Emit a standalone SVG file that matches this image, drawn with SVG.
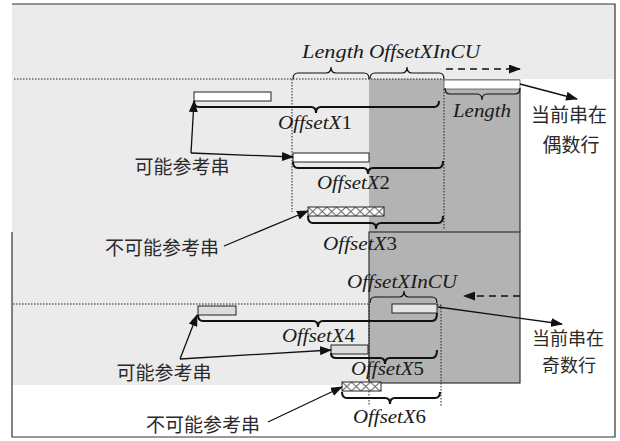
<svg xmlns="http://www.w3.org/2000/svg" width="620" height="441" viewBox="0 0 620 441">
<style>
.math{font-family:"Liberation Serif","DejaVu Serif",serif;font-style:italic;font-size:19px;fill:#1a1a1a}
.num{font-style:normal}
.cjk{font-family:"Noto Sans CJK SC","Noto Sans",sans-serif;font-size:19px;fill:#2a2a2a;text-anchor:middle}
.cjk2{font-size:18px}
.dot{fill:none;stroke:#222;stroke-width:1;stroke-dasharray:1.5,1.5}
.brace{fill:none;stroke:#111;stroke-width:1.2}
.bbrace{fill:none;stroke:#111;stroke-width:2}
.arr{fill:none;stroke:#111;stroke-width:1.3;marker-end:url(#ah)}
.dash{fill:none;stroke:#111;stroke-width:1.6;stroke-dasharray:7,5;marker-end:url(#ah)}
.bar{stroke:#222;stroke-width:1}
</style>
<defs>
<marker id="ah" markerUnits="userSpaceOnUse" markerWidth="12" markerHeight="9" refX="11" refY="4.5" orient="auto">
<path d="M0,0 L12,4.5 L0,9 z" fill="#111"/>
</marker>
<pattern id="hatch" width="9.5" height="9" patternUnits="userSpaceOnUse">
<rect width="9.5" height="9" fill="#fff"/>
<path d="M0,0 L9.5,9 M9.5,0 L0,9" stroke="#666" stroke-width="1"/>
</pattern>
</defs>

<g id="background">
<rect x="12" y="4" width="603" height="75" fill="#ebebeb"/>
<rect x="12" y="79" width="357" height="306" fill="#ebebeb"/>
<rect x="369" y="79" width="151" height="153" fill="#b3b3b3"/>
<rect x="369" y="232" width="151" height="151" fill="#b3b3b3" stroke="#333" stroke-width="1.2"/>
<line x1="520" y1="89" x2="520" y2="232" stroke="#333" stroke-width="1.2"/>
<path d="M12,4 H615 V437 H12 V232" fill="none" stroke="#333" stroke-width="1.2"/>
</g>

<g id="guides">
<line class="dot" x1="14" y1="79" x2="444" y2="79"/>
<line class="dot" x1="292" y1="79" x2="292" y2="212"/>
<line class="dot" x1="444" y1="89" x2="444" y2="230"/>
<line class="dot" x1="13" y1="304" x2="369" y2="304"/>
<line class="dot" x1="369" y1="304" x2="369" y2="405"/>
<line class="dot" x1="437" y1="305" x2="441" y2="305"/>
<line class="dot" x1="441" y1="305" x2="441" y2="406"/>
</g>

<g id="cur-even">
<rect x="444" y="80" width="76" height="9" fill="#fff" stroke="#555" stroke-width="0.8"/>
</g>
<g id="refA"><rect class="bar" x="194" y="92" width="77" height="9" fill="#fff"/></g>
<g id="refB"><rect class="bar" x="293" y="153" width="76" height="9" fill="#fff"/></g>
<g id="refC" transform="translate(308,207)"><rect class="bar" width="76" height="9" fill="url(#hatch)"/></g>
<g id="cur-odd"><rect class="bar" x="392" y="304" width="45" height="9" fill="#e4e4e4"/></g>
<g id="refD"><rect class="bar" x="198" y="306" width="38" height="9" fill="#dcdcdc"/></g>
<g id="refF"><rect class="bar" x="331" y="345" width="37" height="9" fill="#dcdcdc"/></g>
<g id="refG" transform="translate(342,382)"><rect class="bar" width="39" height="9" fill="url(#hatch)"/></g>

<g id="braces">
<path class="brace" d="M293,79 Q293,73 298,73 L326,73 Q331,73 331,67 Q331,73 336,73 L364,73 Q369,73 369,79"/>
<path class="brace" d="M370,79 Q370,73 375,73 L402,73 Q407,73 407,67 Q407,73 412,73 L439,73 Q444,73 444,79"/>
<path class="brace" d="M445,88 Q445,94 450,94 L477,94 Q482,94 482,100 Q482,94 487,94 L515,94 Q520,94 520,88"/>
<path class="bbrace" d="M194,101 Q194,107 199,107 L311,107 Q316,107 316,113 Q316,107 321,107 L434,107 Q439,107 439,101"/>
<path class="bbrace" d="M293,162 Q293,168 298,168 L363,168 Q368,168 368,174 Q368,168 373,168 L438,168 Q443,168 443,161"/>
<path class="bbrace" d="M308,216 Q308,223 313,223 L371,223 Q376,223 376,229 Q376,223 381,223 L438,223 Q443,223 443,216"/>
<path class="brace" d="M370,303 Q370,297 375,297 L399,297 Q404,297 404,291 Q404,297 409,297 L432,297 Q437,297 437,303"/>
<path class="bbrace" d="M198,315 Q198,321 203,321 L313,321 Q318,321 318,327 Q318,321 323,321 L432,321 Q437,321 437,313"/>
<path class="bbrace" d="M331,353 Q331,358 336,358 L380,358 Q385,358 385,364 Q385,358 390,358 L432,358 Q437,358 437,350"/>
<path class="bbrace" d="M342,392 Q342,398 347,398 L385,398 Q390,398 390,404 Q390,398 395,398 L435,398 Q440,398 440,392"/>
</g>

<g id="labels">
<text class="math" x="302" y="58" textLength="62" lengthAdjust="spacingAndGlyphs">Length</text>
<text class="math" x="369" y="58" textLength="111" lengthAdjust="spacingAndGlyphs">OffsetXInCU</text>
<text class="math" x="453" y="117" textLength="58" lengthAdjust="spacingAndGlyphs">Length</text>
<text class="math" x="278" y="129" textLength="74" lengthAdjust="spacingAndGlyphs">OffsetX<tspan class="num">1</tspan></text>
<text class="math" x="317" y="189" textLength="73" lengthAdjust="spacingAndGlyphs">OffsetX<tspan class="num">2</tspan></text>
<text class="math" x="323" y="250" textLength="74" lengthAdjust="spacingAndGlyphs">OffsetX<tspan class="num">3</tspan></text>
<text class="math" x="347" y="288" textLength="110" lengthAdjust="spacingAndGlyphs">OffsetXInCU</text>
<text class="math" x="282" y="342" textLength="73" lengthAdjust="spacingAndGlyphs">OffsetX<tspan class="num">4</tspan></text>
<text class="math" x="351" y="375" textLength="73" lengthAdjust="spacingAndGlyphs">OffsetX<tspan class="num">5</tspan></text>
<text class="math" x="353" y="423" textLength="73" lengthAdjust="spacingAndGlyphs">OffsetX<tspan class="num">6</tspan></text>
</g>

<g id="note-even">
<text class="cjk" x="569" y="122">当前串在</text>
<text class="cjk" x="571" y="152">偶数行</text>
</g>
<g id="note-possible-1"><text class="cjk" x="182" y="174">可能参考串</text></g>
<g id="note-impossible-1"><text class="cjk" x="162" y="255">不可能参考串</text></g>
<g id="note-possible-2"><text class="cjk" x="164" y="380">可能参考串</text></g>
<g id="note-impossible-2"><text class="cjk" x="203" y="432">不可能参考串</text></g>
<g id="note-odd">
<text class="cjk cjk2" x="568" y="345">当前串在</text>
<text class="cjk cjk2" x="569" y="372">奇数行</text>
</g>

<g id="connectors">
<line class="arr" x1="191" y1="153" x2="194" y2="101"/>
<line class="arr" x1="191" y1="153" x2="293" y2="157"/>
<line class="arr" x1="224" y1="246" x2="308" y2="211"/>
<line class="arr" x1="180" y1="359" x2="197" y2="315"/>
<line class="arr" x1="180" y1="359" x2="331" y2="350"/>
<line class="arr" x1="268" y1="422" x2="342" y2="387"/>
<line class="arr" x1="520" y1="84" x2="577" y2="99"/>
<line class="arr" x1="438" y1="307" x2="562" y2="324"/>
<line class="dash" x1="446" y1="69" x2="520" y2="69"/>
<line class="dash" x1="520" y1="296" x2="464" y2="296"/>
</g>
</svg>
